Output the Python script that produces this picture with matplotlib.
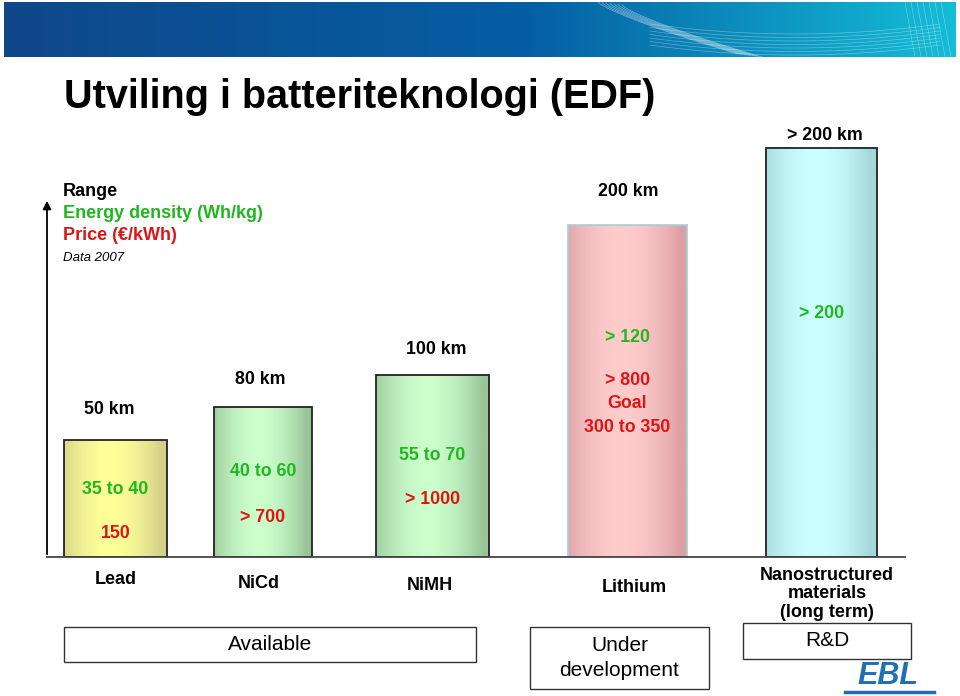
import numpy as np
import matplotlib.pyplot as plt
from matplotlib.patches import Rectangle
from matplotlib.colors import to_rgb

plt.rcParams['font.family'] = ['Liberation Sans', 'DejaVu Sans']

# Chart data
categories = ['Lead', 'NiCd', 'NiMH', 'Lithium', 'Nanostructured\nmaterials\n(long term)']
range_labels = ['50 km', '80 km', '100 km', '200 km', '> 200 km']
energy_labels = ['35 to 40', '40 to 60', '55 to 70', '> 120', '> 200']
price_labels = ['150', '> 700', '> 1000', '> 800\nGoal\n300 to 350', '']
bar_heights = [117, 150, 182, 332, 409]   # relative range
status_labels = ['Available', 'Under\ndevelopment', 'R&D']

# Layout (pixels)
W, H = 960, 696
BASE = 557
bar_left = [64, 214, 376, 568, 766]
bar_width = [103, 98, 113, 119, 111]
edge_col = ['#d2d08a', '#98c498', '#98c498', '#dca0a4', '#a4d8d8']
mid_col = ['#ffff99', '#ccffcc', '#ccffcc', '#ffcccc', '#ccffff']
outline = ['#222222', '#222222', '#222222', '#a9cfe0', '#222222']
range_y = [410, 380, 349, 192, 136]
range_x = [109, 260, 436, 628, 825]
energy_y = [489, 472, 456, 338, 313]
price_y = [534, 518, 500, 404, 0]
cat_x = [116, 259, 430, 634, 827]
cat_y = [580, 583, 586, 588, 594]
boxes = [(64, 627, 412, 35), (530, 627, 179, 62), (743, 623, 168, 36)]

GREEN = '#1fb81f'
RED = '#dd1515'
FS = 12.8

fig = plt.figure(figsize=(W / 100, H / 100), dpi=100)

# Bar chart axes: x in pixels, y from baseline upward
ax = fig.add_axes([0, (H - BASE) / H, 1, BASE / H])
ax.set_xlim(0, W)
ax.set_ylim(0, BASE)
ax.axis('off')

bars = ax.bar(bar_left, bar_heights, width=bar_width, align='edge',
              edgecolor=outline, linewidth=1.3, color='none', zorder=3)
u = np.linspace(0, 1, 256)
mix = 1 - np.abs(2 * u - 0.9) ** 1.8
mix = np.clip(mix / mix.max(), 0, 1)
for b, ec, mc in zip(bars, edge_col, mid_col):
    e, m = np.array(to_rgb(ec)), np.array(to_rgb(mc))
    grad = (e[None, :] + (m - e)[None, :] * mix[:, None])[None, :, :]
    x0 = b.get_x()
    im = ax.imshow(grad, extent=[x0, x0 + b.get_width(), 0, b.get_height()],
                   aspect='auto', zorder=2)
    im.set_clip_path(b)

# Overlay axes in pixel coordinates (y downward)
ov = fig.add_axes([0, 0, 1, 1], zorder=5)
ov.set_xlim(0, W)
ov.set_ylim(H, 0)
ov.axis('off')
ov.patch.set_alpha(0)

# top banner
xs = np.linspace(0, 1, 400)
c1 = np.array([0.06, 0.28, 0.54])
c2 = np.array([0.02, 0.37, 0.64])
c3 = np.array([0.08, 0.74, 0.84])
banner = np.where(xs[:, None] < 0.55,
                  c1 + (c2 - c1) * (xs[:, None] / 0.55),
                  c2 + (c3 - c2) * ((xs[:, None] - 0.55) / 0.45))
ov.imshow(banner[None, :, :], extent=[4, 956, 57, 2], aspect='auto', zorder=1)
t = np.linspace(0, 1, 60)
for k in range(7):
    ov.plot(598 + 140 * t + k * 4, 2 + 52 * t ** 0.8 + k * 0.5,
            color='white', lw=0.5, alpha=0.45, zorder=2)
    ov.plot(650 + 290 * t, 40 + 10 * (1 - (2 * t - 1) ** 2) - k * 3.5 + 5,
            color='white', lw=0.5, alpha=0.35, zorder=2)
    ov.plot(905 + k * 6 + 10 * t, 2 + 55 * t, color='white', lw=0.4, alpha=0.4, zorder=2)

ov.text(64, 97, 'Utviling i batteriteknologi (EDF)', fontsize=28.5,
        fontweight='bold', ha='left', va='center')

# axes lines
ov.plot([47, 905], [BASE, BASE], color='#444444', lw=1.3, zorder=4)
ov.annotate('', xy=(47, 198), xytext=(47, BASE),
            arrowprops=dict(arrowstyle='-|>', color='black', lw=1.3,
                            mutation_scale=12))

# legend text
ov.text(63, 191, 'Range', fontsize=13, fontweight='bold', va='center')
ov.text(63, 213, 'Energy density (Wh/kg)', fontsize=13, fontweight='bold',
        color=GREEN, va='center')
ov.text(63, 236, 'Price (\u20ac/kWh)', fontsize=13, fontweight='bold',
        color=RED, va='center')
ov.text(63, 258, 'Data 2007', fontsize=9.5, style='italic', va='center')

for i in range(len(categories)):
    cx = bar_left[i] + bar_width[i] / 2
    ov.text(range_x[i], range_y[i], range_labels[i], fontsize=FS,
            fontweight='bold', ha='center', va='center')
    ov.text(cx, energy_y[i], energy_labels[i], fontsize=FS, fontweight='bold',
            color=GREEN, ha='center', va='center')
    if price_labels[i]:
        ov.text(cx, price_y[i], price_labels[i], fontsize=FS, fontweight='bold',
                color=RED, ha='center', va='center', linespacing=1.5)
    ov.text(cat_x[i], cat_y[i], categories[i], fontsize=13, fontweight='bold',
            ha='center', va='center', linespacing=1.12)

for (bx, by, bw, bh), lab in zip(boxes, status_labels):
    ov.add_patch(Rectangle((bx, by), bw, bh, fill=False, edgecolor='#333333', lw=1))
    ov.text(bx + bw / 2, by + bh / 2, lab, fontsize=15, ha='center', va='center',
            linespacing=1.45)

# logo
ov.text(888, 676, 'EBL', fontsize=22, fontweight='bold', color='#1f6fb8',
        ha='center', va='center', style='italic')
ov.plot([845, 934], [692, 692], color='#1f6fb8', lw=2.5)

fig.savefig('out.png', dpi=100)
